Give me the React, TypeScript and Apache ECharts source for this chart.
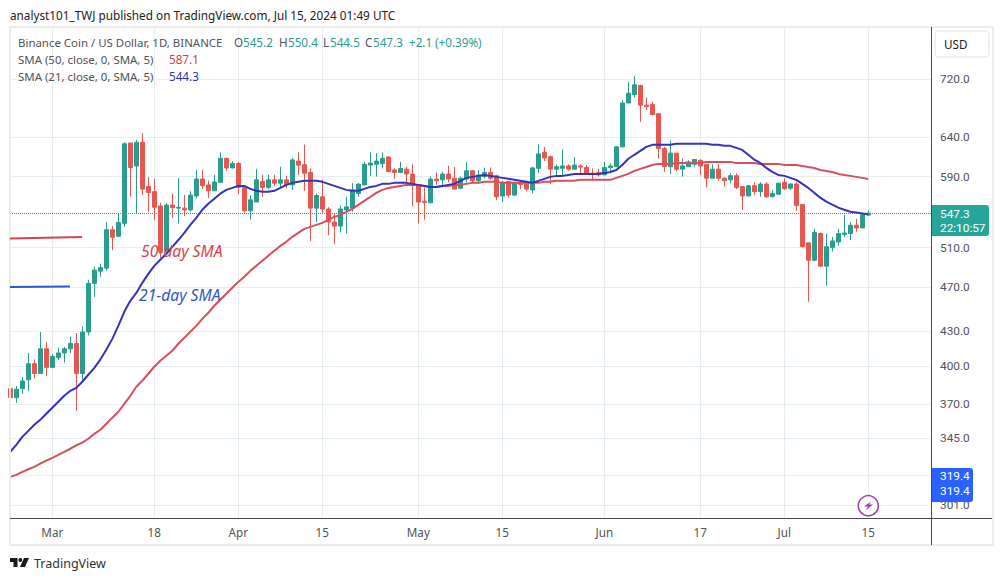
import React, { useEffect, useRef } from "react";
import * as echarts from "echarts";

const opens = [382,375,382,389,402,394,414.5,399,407,411,414.5,419,394,429,474,486,489,529,522,536,632,603,633,578,572,555.5,507,556.5,553,553,551,567,587,580,573,583,612.5,600.5,606,577,550,560,584,577,586,582,586,580,609,604.5,595,553,566,552,537.5,533,551,553,570,580,604,605,606,614,598,595,599,593,579,561,559,587,586,593,588,576,587,597,585,590,595,591,567,584,568,583,582,574,600,620,614.5,599,600,603,599,603,601,594,595,592,601,602,627,686,698,711,683,684,671,625,602,619,599,602,605,610,605,588,599,588,586,591,578,567,579,572,581,566,569,583,576,581,557,515,497,525,491,510,516,524,525,534,531,545.2];
const closes = [375,381.5,388,402,394,414.5,399,408,411,414.5,419,394,429,474,487,489.5,529,521,537,631,601,633,575,571,554,506,556.5,553.5,554,551,568,587,579,573,583.5,612.5,600.5,606,577,550,562.5,586,577,586,582,586,580,610.5,604,594,553,567.5,552,537.5,533,552,554.5,574,581,605,606.5,609,612.5,596,595,600,593,579,560,559.5,587,585,593,587,575,588,597,585,592,595,588,566,583,568,582,580.5,575,600.5,618,613,599,602,603,599,604,601.5,594,593,592,601,603,627,686,700,712,683,681,670,625,602,619,599,603,608,611,603,588,599,588,585,591,577,567,579,572,581,566,570,582,575.5,581,556,511,497,526,491,511,517,525,525.5,534,531,545.5,547.3];
const highs = [385,384,391,411,405.5,429,420,410,415.5,416,425,428,434,477.5,490.5,493.5,537.5,533,547,633,632,636,645,589.5,587,559,559,570,588,568,572.5,598,598,585,592,620,612.5,609,608,578,568,599.5,592,592,592,602,591,613,620,630,600,570,586,554,547,556,566,582,582,608,620,619,620,615,600,608,602,605,580,577,590,595,596,603,602,590,608,598,598,601,601,592,585,584,584,584,584,602,630,627,616,605,624,605,614,605,604,600,599.5,608,606,628,690,716,725,712,694,688,672,627,635,619,612,610,611,611,605,605,605,589,594,594,578,580,583,583,583,574,583,588,582,583,558,515,530,526,525,521,530,545.5,537.5,541,548,550.4];
const lows = [368,371,378,380,390,394,392,399,405,403,411,365,387.5,426,461,480.5,486.5,507.5,521,532,566,547,568,549,540,499.5,505,542,536,544,549,564,575,564.5,573,583,597,600,569,548,540,560,566,575,579,577,576,574,592,573,517,537.5,547,523,514,526,525,549,566,580,591,590,600,595,587.5,594,582,555,536,540,559,580,577,583,575,575,583,582,581,588,586,562,560,565,567,575,572.5,570,594,609,581,590,591,597,599,594,592,587,590,592,594,602,626,686,694,660,676,669,612,596,593,596,590,602,602,592,577,588,585,578,582,575,551,567,568,566,565,566,569,574,574,550,510,456.5,496,490,472,506,512,521,518,527,531,544.5];
const sma21 = [335.6,340.4,346,350.3,354.7,358.3,362.8,367.3,371.8,376.4,380.3,382.6,387.4,393,398.6,405.4,413.6,423,434.4,447.1,457.3,464.8,474.5,483.3,491.3,497.5,503.6,510.8,518,525.7,534.3,542.1,551.2,558,563.8,569.6,574.1,576.4,578.8,578.8,575.3,573,571.8,571.8,573,576.4,580,582.4,583.6,584.8,584.8,584.8,583.6,581.2,578.8,576.4,574.1,573,573,575.3,577.6,578.8,581.2,581.2,582.4,582.4,582.4,581.2,580,578.8,577.6,577.6,578.8,580,581.2,584.8,588.4,589.6,590.8,592,590.8,589.6,588.4,587.2,586,584.8,583.6,582.4,584.8,587.2,589.6,590.8,590.8,592,593.2,593.2,593.2,593.2,593.2,594.4,595.6,598,604.2,611.9,616.9,621.9,627,629.6,629.6,629.6,629.6,630.9,630.9,630.9,630.9,630.9,630.9,629.6,629.6,628.3,628.3,625.7,623.1,616.9,610.7,606.7,600.5,595.6,592,590.8,588.4,586,581.2,576.4,570.6,565,560.4,557,553.6,551.2,549,548,546.9,546];
const sma50 = [318.8,320.1,322.1,323.8,325.4,327.5,329.5,331.5,333.5,335.6,337.7,340.1,341.9,344.7,348.2,351.1,355.4,359.9,364.3,370.3,376.4,383.4,388.2,393.8,399.5,404.4,408.6,412.8,418.8,423.9,429.2,434.4,440.7,446.2,452.7,458.3,464,469.7,475.4,480.4,486.3,491.3,496.4,501.5,506.7,511.8,516.1,521.4,525.7,530,532.2,534.3,536.5,539.9,543.2,545.4,548.8,552.2,556.7,561.3,565.9,570.6,574.1,576.4,577.6,578.8,580,580,580,578.8,577.6,577.6,578.8,578.8,580,580,581.2,582.4,582.4,583.6,583.6,583.6,582.4,582.4,582.4,582.4,582.4,582.4,582.4,583.6,583.6,584.8,584.8,584.8,584.8,586,586,586,586,586,586,588.4,590.8,593.2,596.8,599.3,601.7,604.2,605.5,605.5,605.5,606.7,606.7,606.7,606.7,606.7,608,608,608,608,608,606.7,606.7,606.7,606.7,605.5,605.5,605.5,605.5,604.2,604.2,604.2,603,601.7,600.5,598,596.8,595.6,593.2,592,590.8,589.6,588.4,587.1];

const priceTicks = [720, 640, 590, 510, 470, 430, 400, 370, 345, 301];
const hiddenPriceTicks = [320];
const lastPrice = 547.3;
// day numbers counted from Feb 23, 2024, with the label the time scale shows there
const dayTicks = [7, 24, 38, 52, 68, 82, 99, 115, 129, 143];
const dayTickLabels = ["Mar", "18", "Apr", "15", "May", "15", "Jun", "17", "Jul", "15"];

const FONT = '"Noto Sans", sans-serif';
const SCALE_FONT = 'Roboto, sans-serif';
const UP = "#2a9d8f";
const DOWN = "#e5574f";
const GRID = "#e6eef1";
const TEXT = "#4f5358";
const TS = 11.7;

const tx = (text: string, x: number, y: number, fill: string, size = TS, extra: any = {}) => ({
  type: "text",
  z: 100,
  style: { text, x, y, fill, font: `${size}px ${FONT}`, textVerticalAlign: "middle", ...extra },
});
const sx = (text: string, x: number, y: number, fill: string) => tx(text, x, y, fill, 11.8, { font: `11.8px ${SCALE_FONT}` });
const ln = (x1: number, y1: number, x2: number, y2: number, stroke: string, lineWidth = 1, z = 90) => ({
  type: "line",
  z,
  shape: { x1, y1, x2, y2 },
  style: { stroke, lineWidth },
});

export default function App() {
  const ref = useRef<HTMLDivElement>(null);
  useEffect(() => {
    document.body.style.margin = "0";
    const chart = echarts.init(ref.current!, undefined, { renderer: "svg" });
    const candles = opens.map((o, i) => [i, o, closes[i], lows[i], highs[i]]);
    const minX = -0.05;

    chart.setOption({
      animation: false,
      backgroundColor: "#ffffff",
      grid: { left: 10, top: 28, width: 921, height: 490 },
      xAxis: {
        type: "value",
        min: minX,
        max: minX + 153.5,
        axisLine: { show: false },
        axisTick: { show: false, customValues: dayTicks },
        splitLine: { show: true, lineStyle: { color: GRID, width: 1 } },
        axisLabel: {
          customValues: dayTicks,
          formatter: (v: number) => dayTickLabels[dayTicks.indexOf(v)] ?? "",
          color: TEXT,
          fontFamily: FONT,
          fontSize: 11.7,
          margin: 8,
          hideOverlap: false,
        },
      },
      yAxis: {
        type: "log",
        position: "right",
        min: 293,
        max: 800,
        axisLine: { show: false },
        axisTick: { show: false },
        axisLabel: { show: false },
        splitLine: { show: false },
      },
      series: [
        {
          type: "candlestick",
          name: "Binance Coin / US Dollar",
          data: candles,
          encode: { x: 0, y: [1, 2, 3, 4] },
          barWidth: 4.6,
          itemStyle: { color: UP, color0: DOWN, borderColor: UP, borderColor0: DOWN, borderWidth: 1 },
          z: 3,
          markLine: {
            silent: true,
            symbol: "none",
            animation: false,
            z: 1,
            data: [
              ...priceTicks.map((v) => ({
                yAxis: v,
                lineStyle: { color: GRID, width: 1, type: "solid" },
                label: {
                  show: true,
                  position: "end",
                  distance: 9,
                  formatter: () => v.toFixed(1),
                  color: TEXT,
                  fontFamily: SCALE_FONT,
                  fontSize: 11.8,
                },
              })),
              ...hiddenPriceTicks.map((v) => ({
                yAxis: v,
                lineStyle: { color: GRID, width: 1, type: "solid" },
                label: { show: false },
              })),
              {
                yAxis: lastPrice,
                lineStyle: { color: UP, width: 1, type: "dotted" },
                label: { show: false },
              },
            ],
          },
        },
        {
          type: "line",
          name: "SMA 50",
          data: sma50.map((v, i) => [i, v]),
          showSymbol: false,
          lineStyle: { color: "#d84f5c", width: 2 },
          z: 4,
        },
        {
          type: "line",
          name: "SMA 21",
          data: sma21.map((v, i) => [i, v]),
          showSymbol: false,
          lineStyle: { color: "#3434bb", width: 2 },
          z: 5,
        },
      ],
      graphic: [
        tx("analyst101_TWJ published on TradingView.com, Jul 15, 2024 01:49 UTC", 10, 15, "#222222", 11.75),
        { type: "rect", z: 80, shape: { x: 10, y: 27, width: 983, height: 518 }, style: { fill: "none", stroke: "#ececec", lineWidth: 2 } },
        ln(931.5, 27, 931.5, 545, "#4a4a4a"),
        ln(10, 518.5, 992, 518.5, "#4a4a4a"),
        tx("Binance Coin / US Dollar, 1D, BINANCE", 18, 42, TEXT, 11.45),
        tx("O", 234, 42, TEXT), tx("545.2", 243, 42, UP),
        tx("H", 279, 42, TEXT), tx("550.4", 288, 42, UP),
        tx("L", 323, 42, TEXT), tx("544.5", 330, 42, UP),
        tx("C", 365, 42, TEXT), tx("547.3", 373, 42, UP),
        tx("+2.1", 409, 42, UP), tx("(+0.39%)", 435, 42, UP),
        tx("SMA (50, close, 0, SMA, 5)", 18, 59, TEXT, 11.45), tx("587.1", 169, 59, "#d0404f"),
        tx("SMA (21, close, 0, SMA, 5)", 18, 76, TEXT, 11.45), tx("544.3", 169, 76, "#3333aa"),
        { type: "rect", z: 95, shape: { x: 935, y: 31, width: 54, height: 26, r: 4 }, style: { fill: "#ffffff", stroke: "#ececec", lineWidth: 1.5 } },
        tx("USD", 944, 44, "#222222"),
        { type: "rect", z: 95, shape: { x: 932, y: 205, width: 57, height: 31, r: [0, 3, 3, 0] }, style: { fill: "#26a69a" } },
        sx("547.3", 940, 213.5, "#ffffff"),
        sx("22:10:57", 940, 228, "#ffffff"),
        { type: "rect", z: 95, shape: { x: 932, y: 468, width: 41, height: 34, r: [0, 3, 3, 0] }, style: { fill: "#2962ff" } },
        sx("319.4", 940, 476, "#ffffff"),
        sx("319.4", 940, 491, "#ffffff"),
        ln(10, 238.5, 82, 237, "#d9434e", 2),
        ln(10, 287, 70, 286.5, "#2f58c8", 2),
        tx("50-day SMA", 141, 251, "#d9434e", 15.7, { font: `italic 15.7px ${FONT}` }),
        tx("21-day SMA", 139, 295, "#2f58c8", 15.7, { font: `italic 15.7px ${FONT}` }),
        { type: "circle", z: 95, shape: { cx: 868.3, cy: 505.7, r: 10 }, style: { fill: "#ffffff", stroke: "#9c3fa5", lineWidth: 1.5 } },
        { type: "polygon", z: 96, shape: { points: [[871, 501.5], [864, 506.5], [868, 506.5], [865.5, 510.5], [873, 504.5], [869, 504.5]] }, style: { fill: "#9c3fa5" } },
        { type: "polygon", z: 96, shape: { points: [[10, 558], [17.5, 558], [17.5, 567], [13.5, 567], [13.5, 562], [10, 562]] }, style: { fill: "#1a1a1a" } },
        { type: "circle", z: 96, shape: { cx: 20.3, cy: 560, r: 1.9 }, style: { fill: "#1a1a1a" } },
        { type: "polygon", z: 96, shape: { points: [[24, 558], [29, 558], [25, 567], [20, 567]] }, style: { fill: "#1a1a1a" } },
        tx("TradingView", 34, 563, "#333333", 12.5),
      ],
    });
    return () => chart.dispose();
  }, []);
  return <div ref={ref} style={{ width: 1003, height: 581 }} />;
}
